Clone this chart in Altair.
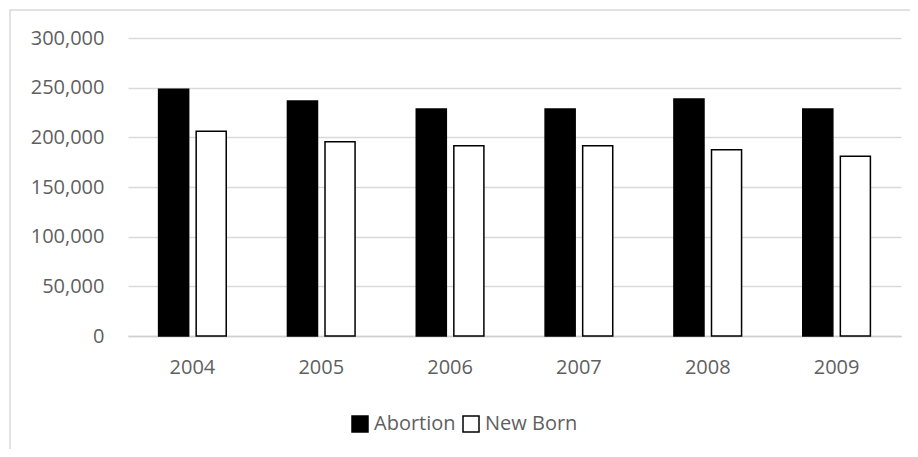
import altair as alt
import pandas as pd

years = ["2004", "2005", "2006", "2007", "2008", "2009"]
abortion = [248500, 236500, 228500, 228500, 238500, 228500]
new_born = [206000, 195500, 191500, 191500, 187500, 181000]
series = ["Abortion", "New Born"]

rows = []
for i, y in enumerate(years):
    rows.append({"year": y, "series": "Abortion", "value": abortion[i]})
    rows.append({"year": y, "series": "New Born", "value": new_born[i]})
df = pd.DataFrame(rows)

FONT = "Open Sans"
GREY = "#5f5f5f"

bars = alt.Chart(df).mark_bar(stroke="black", strokeWidth=1.5).encode(
    x=alt.X("year:N", sort=years, title=None,
            scale=alt.Scale(paddingInner=0.475, paddingOuter=0.2375),
            axis=alt.Axis(labelAngle=0, ticks=False, domainColor="#d0d0d0",
                          domainWidth=1.5, labelPadding=21, labelFontSize=20,
                          labelFont=FONT, labelColor=GREY, grid=False)),
    xOffset=alt.XOffset("series:N", sort=series,
                        scale=alt.Scale(paddingInner=0.2, paddingOuter=0)),
    y=alt.Y("value:Q", title=None,
            scale=alt.Scale(domain=[0, 300000], nice=False),
            axis=alt.Axis(values=[0, 50000, 100000, 150000, 200000, 250000, 300000],
                          format=",d", domain=False, ticks=False, labelPadding=24,
                          labelFontSize=20, labelFont=FONT, labelColor=GREY,
                          gridColor="#d9d9d9", gridWidth=1.5)),
    color=alt.Color("series:N", sort=series, title=None,
                    scale=alt.Scale(domain=series, range=["black", "white"]),
                    legend=alt.Legend(orient="none", legendX=222, legendY=376,
                                      direction="horizontal", symbolType="square",
                                      symbolSize=256, symbolStrokeColor="black",
                                      symbolStrokeWidth=1.5, labelFontSize=20,
                                      labelFont=FONT, labelColor=GREY,
                                      labelOffset=4, columnPadding=4)),
)

border = alt.Chart(pd.DataFrame({"a": [0]})).mark_rect(
    fill=None, stroke="#d9d9d9", strokeWidth=1.5
).encode(
    x=alt.value(-118), x2=alt.value(1000),
    y=alt.value(-28), y2=alt.value(600),
)

chart = alt.layer(border, bars).properties(
    width=773, height=298,
    autosize=alt.AutoSizeParams(type="none"),
    padding={"left": 120, "top": 30, "right": 9, "bottom": 113},
    background="white",
).configure_view(stroke=None)

chart.save("out.html", embed_options={"renderer": "svg", "actions": False})
